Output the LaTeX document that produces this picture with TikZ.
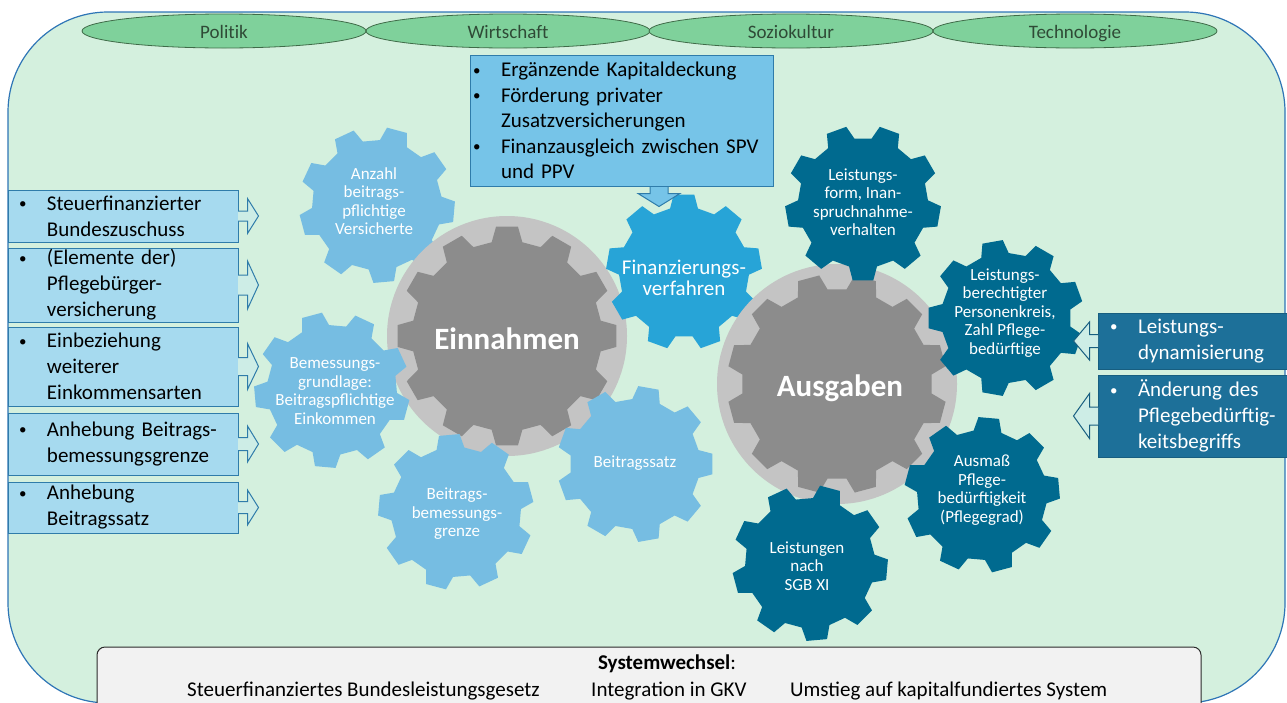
\documentclass[tikz,border=0pt]{standalone}
\usepackage{fontspec}
\setmainfont{Carlito}
\usetikzlibrary{shapes.geometric,calc}

\definecolor{bgfill}{HTML}{D4F0DE}
\definecolor{bgline}{HTML}{2E75B6}
\definecolor{envfill}{HTML}{7FD19B}
\definecolor{envline}{HTML}{3F6B48}
\definecolor{envtext}{HTML}{2F4A36}
\definecolor{lboxfill}{HTML}{A6DAEF}
\definecolor{boxline}{HTML}{2F7CAA}
\definecolor{tboxfill}{HTML}{76C4E8}
\definecolor{gearlight}{HTML}{76BDE2}
\definecolor{gearmid}{HTML}{27A4D7}
\definecolor{geardark}{HTML}{006A8F}
\definecolor{rboxfill}{HTML}{1D7099}
\definecolor{rboxline}{HTML}{175E80}
\definecolor{ringgray}{HTML}{C4C4C4}
\definecolor{coregray}{HTML}{8C8C8C}
\definecolor{arrowfill}{HTML}{CDEDE6}
\definecolor{sysfill}{HTML}{F2F2F2}
\definecolor{sysline}{HTML}{2A2A2A}

% bullet column for the list boxes
\newcommand\itembul{\makebox[28pt][l]{\raisebox{1.5pt}{\fontsize{15}{15}\selectfont\textbullet}}}
\newcommand\itemind{\hspace*{28pt}}

% cog wheel: centre x, centre y, teeth, tip radius, root radius, rotation, colour
\newcommand\cog[7]{%
  \pgfmathsetmacro\cogp{360/#3}%
  \begin{scope}[shift={(#1,#2)}]
    \fill[#7] ({#6-0.31*\cogp}:#5)
      \foreach \k in {1,...,#3}{
        -- ({#6+(\k-1)*\cogp-0.31*\cogp}:#5)
        -- ({#6+(\k-1)*\cogp-0.19*\cogp}:#4)
        -- ({#6+(\k-1)*\cogp+0.19*\cogp}:#4)
        -- ({#6+(\k-1)*\cogp+0.31*\cogp}:#5)
      } -- cycle;
  \end{scope}}

% block arrow leaving a box to the right: node, shaft half height, head half height
\newcommand\inarrow[3]{%
  \filldraw[larrow] ($(#1.east)+(-0.5,-#2)$) -- ++(9.5,0) -- ++(0,{#2-#3})
    -- ++(11,#3) -- ++(-11,#3) -- ++(0,{#2-#3}) -- ++(-9.5,0);}

% block arrow leaving a box to the left: node, shaft half height, head half height
\newcommand\outarrow[3]{%
  \filldraw[rarrow] ($(#1.west)+(0.5,-#2)$) -- ++(-8.5,0) -- ++(0,{#2-#3})
    -- ++(-16,#3) -- ++(16,#3) -- ++(0,{#2-#3}) -- ++(8.5,0);}

\begin{document}
\begin{tikzpicture}[x=1pt,y=-1pt,
  env/.style={ellipse,draw=envline,line width=0.8pt,fill=envfill,minimum width=284pt,
    minimum height=34pt,inner sep=0pt,text=envtext,text height=18pt,text depth=4pt,
    font=\fontsize{19}{22}\selectfont\addfontfeature{Ligatures=NoCommon}},
  gtext/.style={align=center,text=white,inner sep=0pt,font=\fontsize{17}{18.5}\selectfont},
  bigtext/.style={text=white,inner sep=0pt,text height=21pt,text depth=7pt,
    font=\fontsize{31}{34}\selectfont\bfseries},
  lbox/.style={draw=boxline,line width=1pt,fill=lboxfill,minimum width=230pt,
    text width=208pt,inner xsep=11pt,inner ysep=0pt,align=left,
    font=\fontsize{21}{26}\selectfont},
  tbox/.style={draw=boxline,line width=1pt,fill=tboxfill,minimum width=303pt,
    minimum height=131pt,text width=297pt,inner xsep=3pt,inner ysep=0pt,align=left,
    font=\fontsize{21}{25.5}\selectfont},
  rbox/.style={draw=rboxline,line width=1pt,fill=rboxfill,minimum width=202pt,
    text width=178pt,inner xsep=12pt,inner ysep=0pt,align=left,text=white,
    font=\fontsize{21}{26}\selectfont},
  larrow/.style={draw=boxline,line width=1pt,fill=arrowfill},
  rarrow/.style={draw=rboxline,line width=1pt,fill=arrowfill},
  darrow/.style={draw=boxline,line width=1pt,fill=tboxfill},
  sysbox/.style={draw=sysline,line width=1pt,fill=sysfill,rounded corners=8pt,
    minimum width=1104pt,minimum height=68pt,inner sep=0pt},
  systext/.style={inner sep=0pt,text height=14pt,text depth=5pt,
    font=\fontsize{21}{24}\selectfont}]

\useasboundingbox (0,0) rectangle (1287,702);
\clip (0,0) rectangle (1287,702);

% frame
\draw[draw=bgline,fill=bgfill,line width=1.2pt,rounded corners=100pt] (8,12) rectangle (1285,703);

% environment ellipses
\node[env] (pol) at (224,31) {Politik};
\node[env] (wir) at (508,31) {Wirtschaft};
\node[env] (soz) at (791,31) {Soziokultur};
\node[env] (tec) at (1075,31) {Technologie};

% revenue side
\cog{377}{205}{9}{78}{65}{5}{gearlight}
\fill[ringgray] (507,336) circle[radius=120pt];
\cog{507}{336}{12}{110}{95}{0}{coregray}
\cog{332}{390}{9}{78}{65}{15}{gearlight}
\cog{456}{512}{9}{78}{65}{25}{gearlight}
\cog{635}{464}{9}{78}{65}{0}{gearlight}
\cog{684}{272}{9}{78}{65}{30}{gearmid}

% expenditure side
\fill[ringgray] (837,384) circle[radius=120pt];
\cog{837}{384}{12}{110}{95}{15}{coregray}
\cog{863}{203}{9}{78}{65}{10}{geardark}
\cog{1006}{318}{9}{78}{65}{20}{geardark}
\cog{982}{495}{9}{78}{65}{35}{geardark}
\cog{810}{563}{9}{78}{65}{5}{geardark}

% cog labels
\node[bigtext] (ein) at (507,342) {Einnahmen};
\node[bigtext] (aus) at (840,389) {Ausgaben};
\node[gtext] (anz) at (374,201) {Anzahl\\beitrags-\\pflichtige\\Versicherte};
\node[gtext] (bem) at (335,391) {Bemessungs-\\grundlage:\\Beitragspflichtige\\Einkommen};
\node[gtext] (bbg) at (457,514) {Beitrags-\\bemessungs-\\grenze};
\node[gtext] (bsz) at (635,463) {Beitragssatz};
\node[gtext,font=\fontsize{21}{21}\selectfont] (fin) at (684,278) {Finanzierungs-\\verfahren};
\node[gtext] (lfo) at (863,202) {Leistungs-\\form, Inan-\\spruchnahme-\\verhalten};
\node[gtext] (lbp) at (1005,313) {Leistungs-\\berechtigter\\Personenkreis,\\Zahl Pflege-\\bedürftige};
\node[gtext] (amp) at (982,490) {Ausmaß\\Pflege-\\bedürftigkeit\\(Pflegegrad)};
\node[gtext] (sgb) at (807,566) {Leistungen\\nach\\SGB XI};

% financing options above the financing cog
\node[tbox] (kap) at (621.5,120.5) {\itembul Ergänzende Kapitaldeckung\\
  \itembul Förderung privater\\\itemind Zusatzversicherungen\\
  \itembul Finanzausgleich zwischen SPV\\\itemind und PPV};
\filldraw[darrow] ($(kap.south)+(28.5,0.6)$) -- ++(0,6.4) -- ++(-12,0) -- ++(21,13)
  -- ++(21,-13) -- ++(-12,0) -- ++(0,-6.4);

% revenue levers
\node[lbox,minimum height=52pt] (l1) at (123,216) {\itembul Steuerfinanzierter\\\itemind Bundeszuschuss};
\node[lbox,minimum height=74pt] (l2) at (123,285) {\itembul (Elemente der)\\\itemind Pflegebürger-\\\itemind versicherung};
\node[lbox,minimum height=79pt] (l3) at (123,366.5) {\itembul Einbeziehung\\\itemind weiterer\\\itemind Einkommensarten};
\node[lbox,minimum height=62pt] (l4) at (123,444) {\itembul Anhebung Beitrags-\\\itemind bemessungsgrenze};
\node[lbox,minimum height=51pt] (l5) at (123,507.5) {\itembul Anhebung\\\itemind Beitragssatz};
\inarrow{l1}{5}{17.5}
\inarrow{l2}{10}{24}
\inarrow{l3}{9}{23}
\inarrow{l4}{6.5}{18}
\inarrow{l5}{6}{17.5}

% expenditure levers
\node[rbox,minimum height=56pt] (r1) at (1199,341) {\itembul Leistungs-\\\itemind dynamisierung};
\node[rbox,minimum height=82pt] (r2) at (1199,416) {\itembul Änderung des\\\itemind Pflegebedürftig-\\\itemind keitsbegriffs};
\outarrow{r1}{6.5}{19}
\outarrow{r2}{9}{22.5}

% system change
\node[sysbox] (sys) at (649,681) {};
\node[systext] (swt) at (667,665) {\textbf{Systemwechsel}:};
\node[systext,anchor=west] (sw1) at (187,692) {Steuerfinanziertes Bundesleistungsgesetz};
\node[systext,anchor=west] (sw2) at (591,692) {Integration in GKV};
\node[systext,anchor=west] (sw3) at (790,692) {Umstieg auf kapitalfundiertes System};
\end{tikzpicture}
\end{document}
